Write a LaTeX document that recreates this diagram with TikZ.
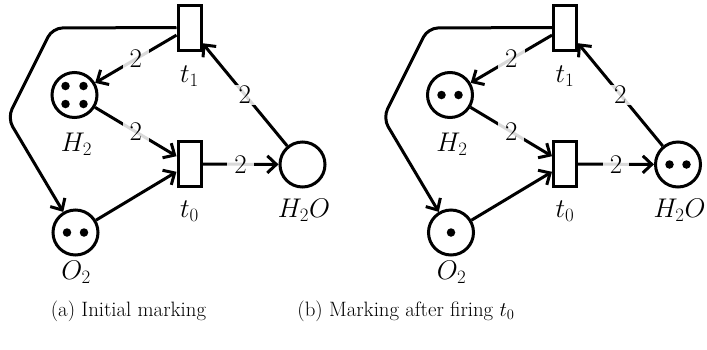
\documentclass[tikz,border=0pt]{standalone}
\usepackage{fix-cm}
\usetikzlibrary{arrows.meta}
\begin{document}
\begin{tikzpicture}[x=1pt,y=-1pt,line width=3pt,
  place/.style={circle,draw,minimum size=45pt,inner sep=0pt},
  trans/.style={rectangle,draw,minimum width=23pt,minimum height=45pt,inner sep=0pt},
  tok/.style={circle,fill=black,minimum size=8.5pt,inner sep=0pt},
  lbl/.style={font=\fontsize{27}{32}\selectfont},
  wt/.style={fill=white,fill opacity=0.85,text opacity=1,inner xsep=7pt,inner ysep=1pt,font=\fontsize{27}{32}\selectfont},
  arc/.style={-{Straight Barb[length=9pt,width=17pt]}},
  captext/.style={font=\fontsize{20.8}{25}\selectfont}]
\useasboundingbox (0,0) rectangle (707,349);
\foreach \p/\ox in {a/0,b/375.5}{
  \begin{scope}[xshift=\ox]
  \node[trans] (t1\p) at (189.5,27.5) {};
  \node[trans] (t0\p) at (189.5,164) {};
  \node[place] (h\p) at (74.5,95) {};
  \node[place] (o\p) at (75.5,232.5) {};
  \node[place] (w\p) at (302.5,164.5) {};
  \node[lbl] (lt1\p) at (189.5,76) {$t_1$};
  \node[lbl] (lt0\p) at (189.5,211) {$t_0$};
  \node[lbl] (lh\p) at (76.5,144) {$H_2$};
  \node[lbl] (lo\p) at (76,272) {$O_2$};
  \node[lbl] (lw\p) at (304,210) {$H_2O$};
  \coordinate (c1\p) at (52.5,28);
  \coordinate (c2\p) at (7.5,118);
  \draw[arc] (t1\p) -- node[wt]{2} (h\p);
  \draw[arc] (h\p) -- node[wt]{2} (t0\p);
  \draw[arc] (o\p) -- (t0\p);
  \draw[arc] (t0\p) -- node[wt]{2} (w\p);
  \draw[arc] (w\p) -- node[wt]{2} (t1\p);
  \draw[arc,rounded corners=10pt] (t1\p.west) -- (c1\p) -- (c2\p) -- (o\p);
  \end{scope}
}
% tokens (a)
\node[tok] (ha1) at (65.5,86) {};
\node[tok] (ha2) at (83.5,86) {};
\node[tok] (ha3) at (65.5,104) {};
\node[tok] (ha4) at (83.5,104) {};
\node[tok] (oa1) at (67,232.5) {};
\node[tok] (oa2) at (84,232.5) {};
% tokens (b)
\node[tok] (hb1) at (441.5,95) {};
\node[tok] (hb2) at (458.5,95) {};
\node[tok] (ob1) at (451,232.5) {};
\node[tok] (wb1) at (669.5,164.5) {};
\node[tok] (wb2) at (686.5,164.5) {};
\node[captext] (capa) at (128.5,311) {(a) Initial marking};
\node[captext] (capb) at (406,311) {(b) Marking after firing $t_0$};
\end{tikzpicture}
\end{document}
